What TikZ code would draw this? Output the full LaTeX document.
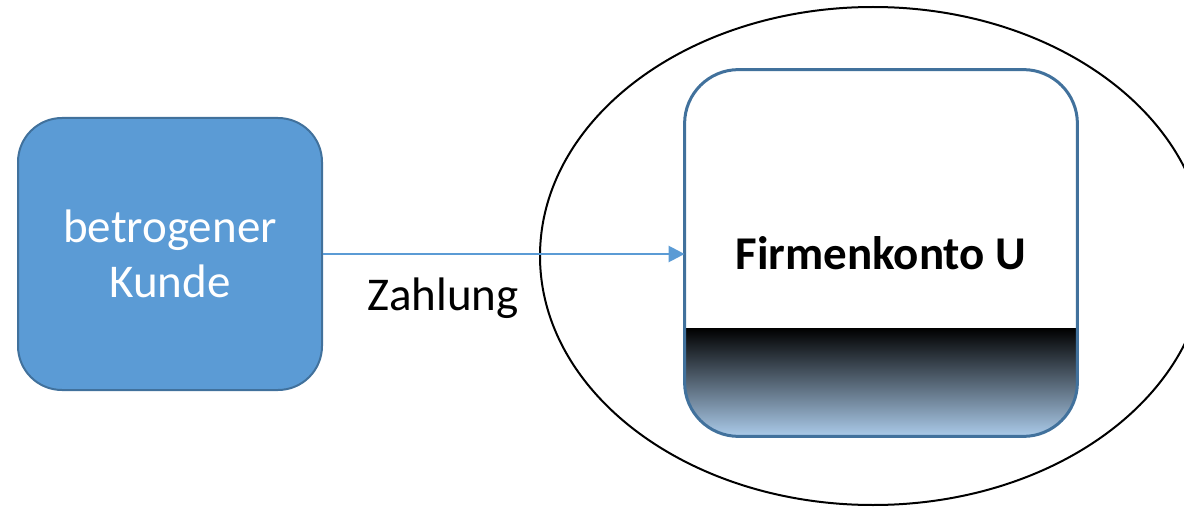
\documentclass[tikz,border=0pt]{standalone}
\usepackage{fontspec}
\setmainfont{Carlito}
\usetikzlibrary{arrows.meta}
\definecolor{kundeblau}{HTML}{5B9BD5}
\definecolor{randblau}{HTML}{41719C}
\definecolor{hellblau}{HTML}{ABCBEA}

\begin{document}
\begin{tikzpicture}[x=0.5pt,y=-0.5pt,
  box/.style={inner sep=0pt,font=\fontsize{23.5}{27.5}\selectfont}]
\useasboundingbox (0,0) rectangle (1184,508);
\clip (0,0) rectangle (1184,508);
\draw[line width=1pt] (873,256) ellipse [x radius=166.5pt,y radius=124.5pt];
\node[box,draw=randblau,line width=1pt,rounded corners=22pt,fill=kundeblau,text=white,align=center,
  minimum width=152pt,minimum height=136pt] (kunde) at (170,254) {betrogener\\Kunde};
\node[box,fill=white,rounded corners=27pt,minimum width=196pt,minimum height=183pt,
  font=\bfseries\fontsize{23.5}{27.5}\selectfont] (konto) at (881,253) {Firmenkonto U};
\begin{scope}
\clip[rounded corners=27pt] (konto.south west) rectangle (konto.north east);
\shade[top color=black,bottom color=hellblau] (konto.south west) rectangle ([yshift=-37.5pt]konto.east);
\end{scope}
\draw[randblau,line width=1.5pt,rounded corners=27pt] (konto.south west) rectangle (konto.north east);
\draw[kundeblau,line width=1.25pt,-{Triangle[length=8pt,width=8pt]}] (kunde.east) -- (kunde.east -| konto.west);
\node[box] (zahlung) at (443,298) {Zahlung};
\end{tikzpicture}
\end{document}
